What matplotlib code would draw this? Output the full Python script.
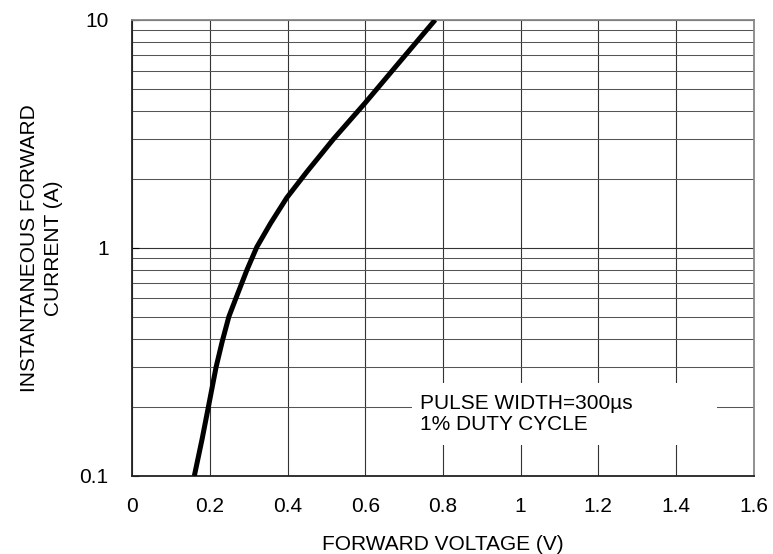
import matplotlib
matplotlib.use('Agg')
import matplotlib.pyplot as plt
from matplotlib.patches import Rectangle
from matplotlib.ticker import FixedLocator, FixedFormatter, NullFormatter

plt.rcParams['font.family'] = ['Liberation Sans', 'DejaVu Sans']

# forward voltage (V) vs instantaneous forward current (A)
voltage = [0.16, 0.18, 0.196, 0.216, 0.232, 0.249, 0.266, 0.274, 0.296, 0.321,
           0.356, 0.398, 0.45, 0.518, 0.599, 0.693, 0.78]
current = [0.10, 0.145, 0.20, 0.30, 0.39, 0.50, 0.595, 0.645, 0.805, 1.01,
           1.28, 1.66, 2.16, 3.0, 4.31, 6.68, 10.0]

x_ticks = [0, 0.2, 0.4, 0.6, 0.8, 1.0, 1.2, 1.4, 1.6]
x_labels = ['0', '0.2', '0.4', '0.6', '0.8', '1', '1.2', '1.4', '1.6']
y_ticks = [0.1, 1, 10]
y_labels = ['0.1', '1', '10']
y_minor = [k * d for d in (0.1, 1) for k in range(2, 10)]

fig = plt.figure(figsize=(7.73, 5.54), dpi=100)
ax = fig.add_axes([0.171, 0.141, 0.804, 0.823])

ax.set_yscale('log')
ax.set_xlim(0, 1.6)
ax.set_ylim(0.1, 10)

ax.xaxis.set_major_locator(FixedLocator(x_ticks))
ax.xaxis.set_major_formatter(FixedFormatter(x_labels))
ax.yaxis.set_major_locator(FixedLocator(y_ticks))
ax.yaxis.set_major_formatter(FixedFormatter(y_labels))
ax.yaxis.set_minor_locator(FixedLocator(y_minor))
ax.yaxis.set_minor_formatter(NullFormatter())

ax.grid(True, which='major', color='#333333', linewidth=0.8)
ax.grid(True, which='minor', axis='y', color='#555555', linewidth=0.75)
ax.tick_params(axis='x', length=0, pad=15, labelsize=15)
ax.tick_params(axis='y', which='major', direction='in', length=5, pad=17, labelsize=15)
ax.tick_params(axis='y', which='minor', length=0)

for side in ('left', 'bottom'):
    ax.spines[side].set_color('#222222')
    ax.spines[side].set_linewidth(1.3)
for side in ('top', 'right'):
    ax.spines[side].set_color('#888888')
    ax.spines[side].set_linewidth(1.3)

ax.plot(voltage, current, color='black', linewidth=3.6, zorder=3,
        solid_capstyle='butt', solid_joinstyle='round')

# white note box over the grid
ax.add_patch(Rectangle((0.45, 0.068), 0.491, 0.136, transform=ax.transAxes,
                       facecolor='white', edgecolor='none', zorder=2))
ax.text(0.463, 0.136, 'PULSE WIDTH=300\u00b5s\n1% DUTY CYCLE', transform=ax.transAxes,
        ha='left', va='center', fontsize=15, linespacing=1.1, zorder=4)

ax.set_xlabel('FORWARD VOLTAGE (V)', fontsize=15, labelpad=14)
ax.set_ylabel('INSTANTANEOUS FORWARD\nCURRENT (A)', fontsize=15, labelpad=12,
              linespacing=1.3)

fig.savefig('out.png', dpi=100)
